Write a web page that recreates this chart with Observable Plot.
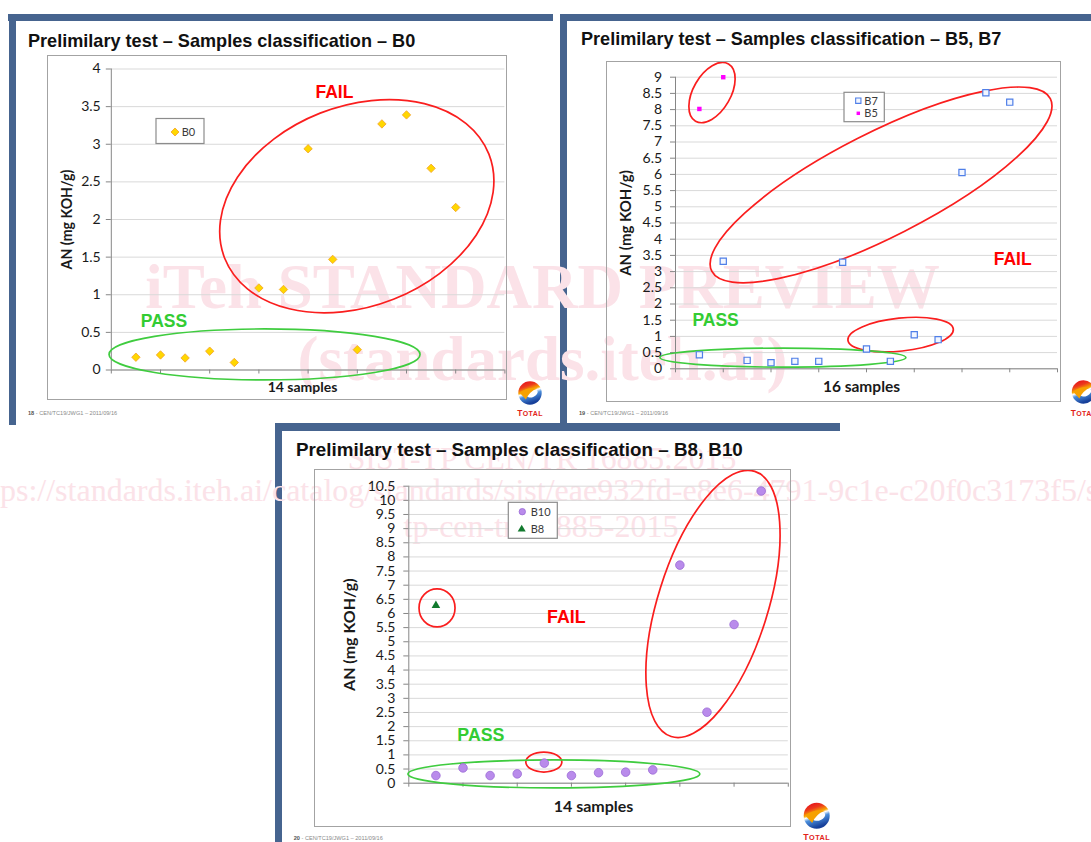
<!DOCTYPE html>
<html><head><meta charset="utf-8">
<script src="https://cdn.jsdelivr.net/npm/d3@7"></script>
<script src="https://cdn.jsdelivr.net/npm/@observablehq/plot@0.6"></script>
<style>
html,body{margin:0;padding:0;background:#fff;}
#page{position:relative;width:1091px;height:842px;overflow:hidden;background:#fff;}
.bar{position:absolute;background:#46648f;}
.chart{position:absolute;outline:1.3px solid #a3a3a3;outline-offset:-1px;}
.chart svg{display:block;overflow:visible;max-width:none;}
.layer{position:absolute;left:0;top:0;pointer-events:none;}
</style></head><body><div id="page"></div>
<script>
// ---------- data ----------
const b0Samples = [1,2,3,4,5,6,7,8,9,10,11,12,13,14];
const b0Values  = [0.17,0.20,0.16,0.25,0.10,1.09,1.07,2.94,1.47,0.27,3.27,3.39,2.68,2.16];

const b7Samples = [1,2,3,4,5,6,7,8,9,10,11,12,13,14];
const b7Values  = [0.43,3.32,0.26,0.19,0.23,0.23,3.29,0.61,0.23,1.05,0.90,6.06,8.52,8.23];
const b5Samples = [1,2];
const b5Values  = [8.02,9.00];

const b10Samples = [1,2,3,4,5,6,7,8,9,10,11,12,13];
const b10Values  = [0.27,0.54,0.27,0.33,0.71,0.27,0.37,0.39,0.47,7.71,2.51,5.61,10.33];
const b8Samples  = [1];
const b8Values   = [6.28];

const b0YTicks  = [0,0.5,1,1.5,2,2.5,3,3.5,4];
const b57YTicks = [0,0.5,1,1.5,2,2.5,3,3.5,4,4.5,5,5.5,6,6.5,7,7.5,8,8.5,9];
const b810YTicks = [0,0.5,1,1.5,2,2.5,3,3.5,4,4.5,5,5.5,6,6.5,7,7.5,8,8.5,9,9.5,10,10.5];
const x16Ticks = [0,2,4,6,8,10,12,14,16];
const x14Ticks = [0,2,4,6,8,10,12,14];

const titles = [
  "Prelimilary test – Samples classification – B0",
  "Prelimilary test – Samples classification – B5, B7",
  "Prelimilary test – Samples classification – B8, B10"
];
const footers = ["18", "19", "20"];
const footerRest = " - CEN/TC19/JWG1  – 2011/09/16";
const yTitle = "AN (mg KOH/g)";
const xTitles = ["14 samples", "16 samples", "14 samples"];

// annotation rings (centre in data units, radii in px)
const b0Rings = [
  {x: 10.0, y: 2.17, rx: 142, ry: 100, angle: -21.5, color: "#fa1e1e"},
  {x: 6.25, y: 0.20, rx: 155.5, ry: 25.5, angle: 0, color: "#3fcc3f"}
];
const b57Rings = [
  {x: 1.55, y: 8.51, rx: 33, ry: 18.7, angle: -60, color: "#fa1e1e"},
  {x: 8.63, y: 5.66, rx: 190, ry: 52, angle: -27, color: "#fa1e1e"},
  {x: 9.45, y: 1.04, rx: 53, ry: 16.5, angle: -6, color: "#fa1e1e"},
  {x: 4.52, y: 0.33, rx: 123, ry: 9.5, angle: 0, color: "#3fcc3f"}
];
const b810Rings = [
  {x: 1.06, y: 6.18, rx: 18, ry: 19, angle: 0, color: "#fa1e1e"},
  {x: 11.24, y: 6.32, rx: 139, ry: 55, angle: -72.5, color: "#fa1e1e"},
  {x: 5.0, y: 0.73, rx: 18, ry: 10, angle: 0, color: "#fa1e1e"},
  {x: 5.37, y: 0.31, rx: 146, ry: 14, angle: 0, color: "#3fcc3f"}
];
const b0Notes   = {fail: [9.07, 3.69], pass: [2.14, 0.645]};
const b57Notes  = {fail: [14.12, 3.37], pass: [1.68, 1.49]};
const b810Notes = {fail: [5.81, 5.86], pass: [2.66, 1.69]};

const watermark = [
  {t: "iTeh STANDARD PREVIEW", x: 542.5, y: 308, fs: 63, w: "bold"},
  {t: "(standards.iteh.ai)", x: 542.5, y: 380, fs: 63, w: "bold"},
  {t: "SIST-TP CEN/TR 16885:2015", x: 542, y: 468.5, fs: 31.7, w: "normal"},
  {t: "https://standards.iteh.ai/catalog/standards/sist/eae932fd-e8e6-4791-9c1e-c20f0c3173f5/sist-", x: 552.7, y: 501, fs: 32, w: "normal"},
  {t: "tp-cen-tr-16885-2015", x: 541, y: 537, fs: 32, w: "normal"}
];

// ---------- helpers ----------
const NS = "http://www.w3.org/2000/svg";
const page = document.getElementById("page");
function el(tag, attrs, parent) {
  const e = document.createElementNS(NS, tag);
  for (const k in attrs) e.setAttribute(k, attrs[k]);
  if (parent) parent.appendChild(e);
  return e;
}
function bar(l, t, w, h) {
  const d = document.createElement("div");
  d.className = "bar";
  Object.assign(d.style, {left: l + "px", top: t + "px", width: w + "px", height: h + "px"});
  page.appendChild(d);
}
function rings(list) {
  return (index, scales) => {
    const g = el("g", {});
    for (const r of list) {
      el("ellipse", {
        transform: `translate(${scales.x(r.x)},${scales.y(r.y)}) rotate(${r.angle})`,
        rx: r.rx, ry: r.ry, fill: "none", stroke: r.color, "stroke-width": 1.7
      }, g);
    }
    return g;
  };
}
const fmt = d => String(+d.toFixed(1));

function chart(cfg) {
  const p = Plot.plot({
    width: cfg.w, height: cfg.h,
    marginLeft: cfg.ml, marginRight: cfg.mr, marginTop: cfg.mt, marginBottom: cfg.mb,
    x: {domain: [0, cfg.xMax]},
    y: {domain: [0, cfg.yMax]},
    style: {fontFamily: "Lato", fontSize: "14px", color: "#1a1a1a", background: "transparent", overflow: "visible"},
    marks: [
      Plot.gridY(cfg.yTicks, {stroke: "#d9d9d9", strokeOpacity: 1}),
      Plot.axisY(cfg.yTicks, {tickSize: 5, tickPadding: cfg.tp, tickFormat: fmt, stroke: "#868686", fill: "#1a1a1a", label: null}),
      Plot.axisX(cfg.xTicks, {tickSize: 4, tickFormat: () => "", stroke: "#868686", label: null}),
      Plot.ruleX([0], {stroke: "#868686"}),
      Plot.ruleY([0], {stroke: "#868686"}),
      rings(cfg.rings),
      Plot.text(["FAIL"], {x: [cfg.notes.fail[0]], y: [cfg.notes.fail[1]], fill: "#ff0000", fontSize: cfg.nfs, fontWeight: "bold", fontFamily: "Liberation Sans"}),
      Plot.text(["PASS"], {x: [cfg.notes.pass[0]], y: [cfg.notes.pass[1]], fill: "#33cc33", fontSize: cfg.nfs, fontWeight: "bold", fontFamily: "Liberation Sans"}),
      ...cfg.dots,
      Plot.text([cfg.xTitle], {frameAnchor: "bottom", textAnchor: "middle", lineAnchor: "middle", dx: cfg.xdx, dy: cfg.xdy, fontSize: cfg.xfs, fontWeight: "bold", fill: "#1a1a1a"}),
      Plot.text([yTitle], {frameAnchor: "left", textAnchor: "middle", lineAnchor: "middle", rotate: -90, dx: cfg.ydx, fontSize: cfg.yfs, fontWeight: "bold", fill: "#1a1a1a"})
    ]
  });
  const d = document.createElement("div");
  d.className = "chart";
  Object.assign(d.style, {left: cfg.left + "px", top: cfg.top + "px", width: cfg.w + "px", height: cfg.h + "px"});
  d.appendChild(p);
  page.appendChild(d);
}

// ---------- slide bars ----------
bar(8, 14, 545, 7);   bar(9, 14, 7, 411);
bar(560, 14, 531, 7); bar(560, 14, 6.5, 409);
bar(275, 423, 565, 8); bar(275, 423, 7, 419);

// ---------- watermark ----------
const wm = el("svg", {width: 1091, height: 842, class: "layer"});
for (const w of watermark) {
  const t = el("text", {x: w.x, y: w.y, "text-anchor": "middle", "font-family": "Liberation Serif", "font-size": w.fs, "font-weight": w.w, fill: "#fbe2e8"}, wm);
  t.textContent = w.t;
}
page.appendChild(wm);

// ---------- charts ----------
const diamond = {symbol: "diamond2", r: 3.8, fill: "#ffd700", stroke: "#f2a12a", strokeWidth: 0.8};
chart({
  left: 47, top: 55, w: 460, h: 345, ml: 63.8, mr: 2.6, mt: 13.5, mb: 30.5,
  xMax: 16, yMax: 4, yTicks: b0YTicks, xTicks: x16Ticks, tp: 5.6,
  rings: b0Rings, notes: b0Notes, nfs: 17.5,
  dots: [Plot.dot(b0Values, {x: b0Samples, y: d => d, ...diamond})],
  xTitle: xTitles[0], xdx: -5.6, xdy: 17.8, xfs: 14, ydx: -43.8, yfs: 14.2
});
chart({
  left: 606, top: 61, w: 454.5, h: 341, ml: 69, mr: 3.5, mt: 15.7, mb: 33.7,
  xMax: 16, yMax: 9, yTicks: b57YTicks, xTicks: x16Ticks, tp: 8.4,
  rings: b57Rings, notes: b57Notes, nfs: 17.5,
  dots: [
    Plot.dot(b7Values, {x: b7Samples, y: d => d, symbol: "square", r: 3.5, fill: "#f2f6ff", stroke: "#4f7fe8", strokeWidth: 1.2}),
    Plot.dot(b5Values, {x: b5Samples, y: d => d, symbol: "square", r: 2.5, fill: "#ff00ff"})
  ],
  xTitle: xTitles[1], xdx: -5, xdy: 18.7, xfs: 15.5, ydx: -49, yfs: 15
});
chart({
  left: 314, top: 469, w: 477.4, h: 357.7, ml: 94.3, mr: 3.6, mt: 16.7, mb: 44,
  xMax: 14, yMax: 10.5, yTicks: b810YTicks, xTicks: x14Ticks, tp: 8.4,
  rings: b810Rings, notes: b810Notes, nfs: 17.8,
  dots: [
    Plot.dot(b10Values, {x: b10Samples, y: d => d, r: 4.3, fill: "#b98beb", stroke: "#9a6bd6", strokeWidth: 0.8}),
    Plot.dot(b8Values, {x: b8Samples, y: d => d, symbol: "triangle", r: 3.2, fill: "#127a2e"})
  ],
  xTitle: xTitles[2], xdx: -5, xdy: 24, xfs: 16, ydx: -59.3, yfs: 16
});

// ---------- decorations ----------
const dec = el("svg", {width: 1091, height: 842, class: "layer"});
const defs = el("defs", {}, dec);
const lg = el("linearGradient", {id: "lg", x1: 0, y1: 0, x2: 0.35, y2: 1}, defs);
[[0, "#e3001b"], [0.3, "#ec3a1c"], [0.48, "#f7a600"], [0.56, "#ffffff"], [0.68, "#4b8fdc"], [1, "#17409a"]]
  .forEach(([o, c]) => el("stop", {offset: o, "stop-color": c}, lg));

// titles
[[28, 46.8, 18.1], [581, 45, 18.1], [296, 455.7, 18.8]].forEach(([x, y, fs], i) => {
  const t = el("text", {x, y, "font-family": "Liberation Sans", "font-weight": "bold", "font-size": fs, fill: "#111"}, dec);
  t.textContent = titles[i];
});
// footers
[[28, 415], [579, 415], [293.7, 840]].forEach(([x, y], i) => {
  const t = el("text", {x, y, "font-family": "Liberation Sans", "font-size": 5.6, fill: "#8a8a8a"}, dec);
  const a = el("tspan", {"font-weight": "bold", fill: "#555"}, t); a.textContent = footers[i];
  const b = el("tspan", {}, t); b.textContent = footerRest;
});
// logos
function logo(cx, cy, r, ty, fs) {
  const g = el("g", {transform: `translate(${cx},${cy})`}, dec);
  el("circle", {r, fill: "url(#lg)"}, g);
  el("ellipse", {cx: r * 0.15, cy: r * 0.12, rx: r * 0.5, ry: r * 0.3, fill: "#ffffff", transform: "rotate(-25)"}, g);
  el("path", {d: `M${-r * 0.9},${-r * 0.05} Q${-r * 0.1},${-r * 0.55} ${r * 0.6},${-r * 0.38} Q${-r * 0.05},${-r * 0.12} ${-r * 0.35},${r * 0.55} Z`, fill: "#f6a100"}, g);
  const t = el("text", {x: 0, y: ty - cy, "text-anchor": "middle", "font-family": "Liberation Sans", "font-weight": "bold", fill: "#e2231a", "letter-spacing": 0.4}, g);
  const a = el("tspan", {"font-size": fs * 1.2}, t); a.textContent = "T";
  const b = el("tspan", {"font-size": fs}, t); b.textContent = "OTAL";
}
logo(530, 393, 11.7, 416, 7);
logo(1083.5, 392, 11.7, 416, 7);
logo(816.7, 815.8, 13, 840.5, 7.3);

// legends
function legend(x, y, w, h, items) {
  const g = el("g", {transform: `translate(${x},${y})`}, dec);
  el("rect", {x: 0, y: 0, width: w, height: h, fill: "#fff", stroke: "#8c8c8c", "stroke-width": 1.2}, g);
  for (const it of items) {
    el("path", {d: d3.symbol(it.type, it.size)(), transform: `translate(${it.mx},${it.my})`, fill: it.fill, stroke: it.stroke || "none", "stroke-width": it.sw || 0}, g);
    const t = el("text", {x: it.tx, y: it.my, dy: "0.35em", "font-family": "Lato", "font-size": 11, fill: "#3a3a3a"}, g);
    t.textContent = it.label;
  }
}
legend(156, 118.5, 48, 25, [
  {type: d3.symbolDiamond2, size: 41, fill: "#ffd700", stroke: "#f2a12a", sw: 0.8, mx: 19, my: 13.5, tx: 25.7, label: "B0"}
]);
legend(844, 92.3, 40.3, 29.4, [
  {type: d3.symbolSquare, size: 28, fill: "#f2f6ff", stroke: "#4f7fe8", sw: 1.1, mx: 14.3, my: 8.4, tx: 20.3, label: "B7"},
  {type: d3.symbolSquare, size: 12, fill: "#ff00ff", mx: 14.3, my: 21, tx: 20.3, label: "B5"}
]);
legend(508.3, 502.3, 49, 36, [
  {type: d3.symbolCircle, size: 32, fill: "#b98beb", stroke: "#9a6bd6", sw: 0.8, mx: 14, my: 9.4, tx: 22.4, label: "B10"},
  {type: d3.symbolTriangle, size: 28, fill: "#127a2e", mx: 13.4, my: 27, tx: 22.4, label: "B8"}
]);
page.appendChild(dec);
</script></body></html>
